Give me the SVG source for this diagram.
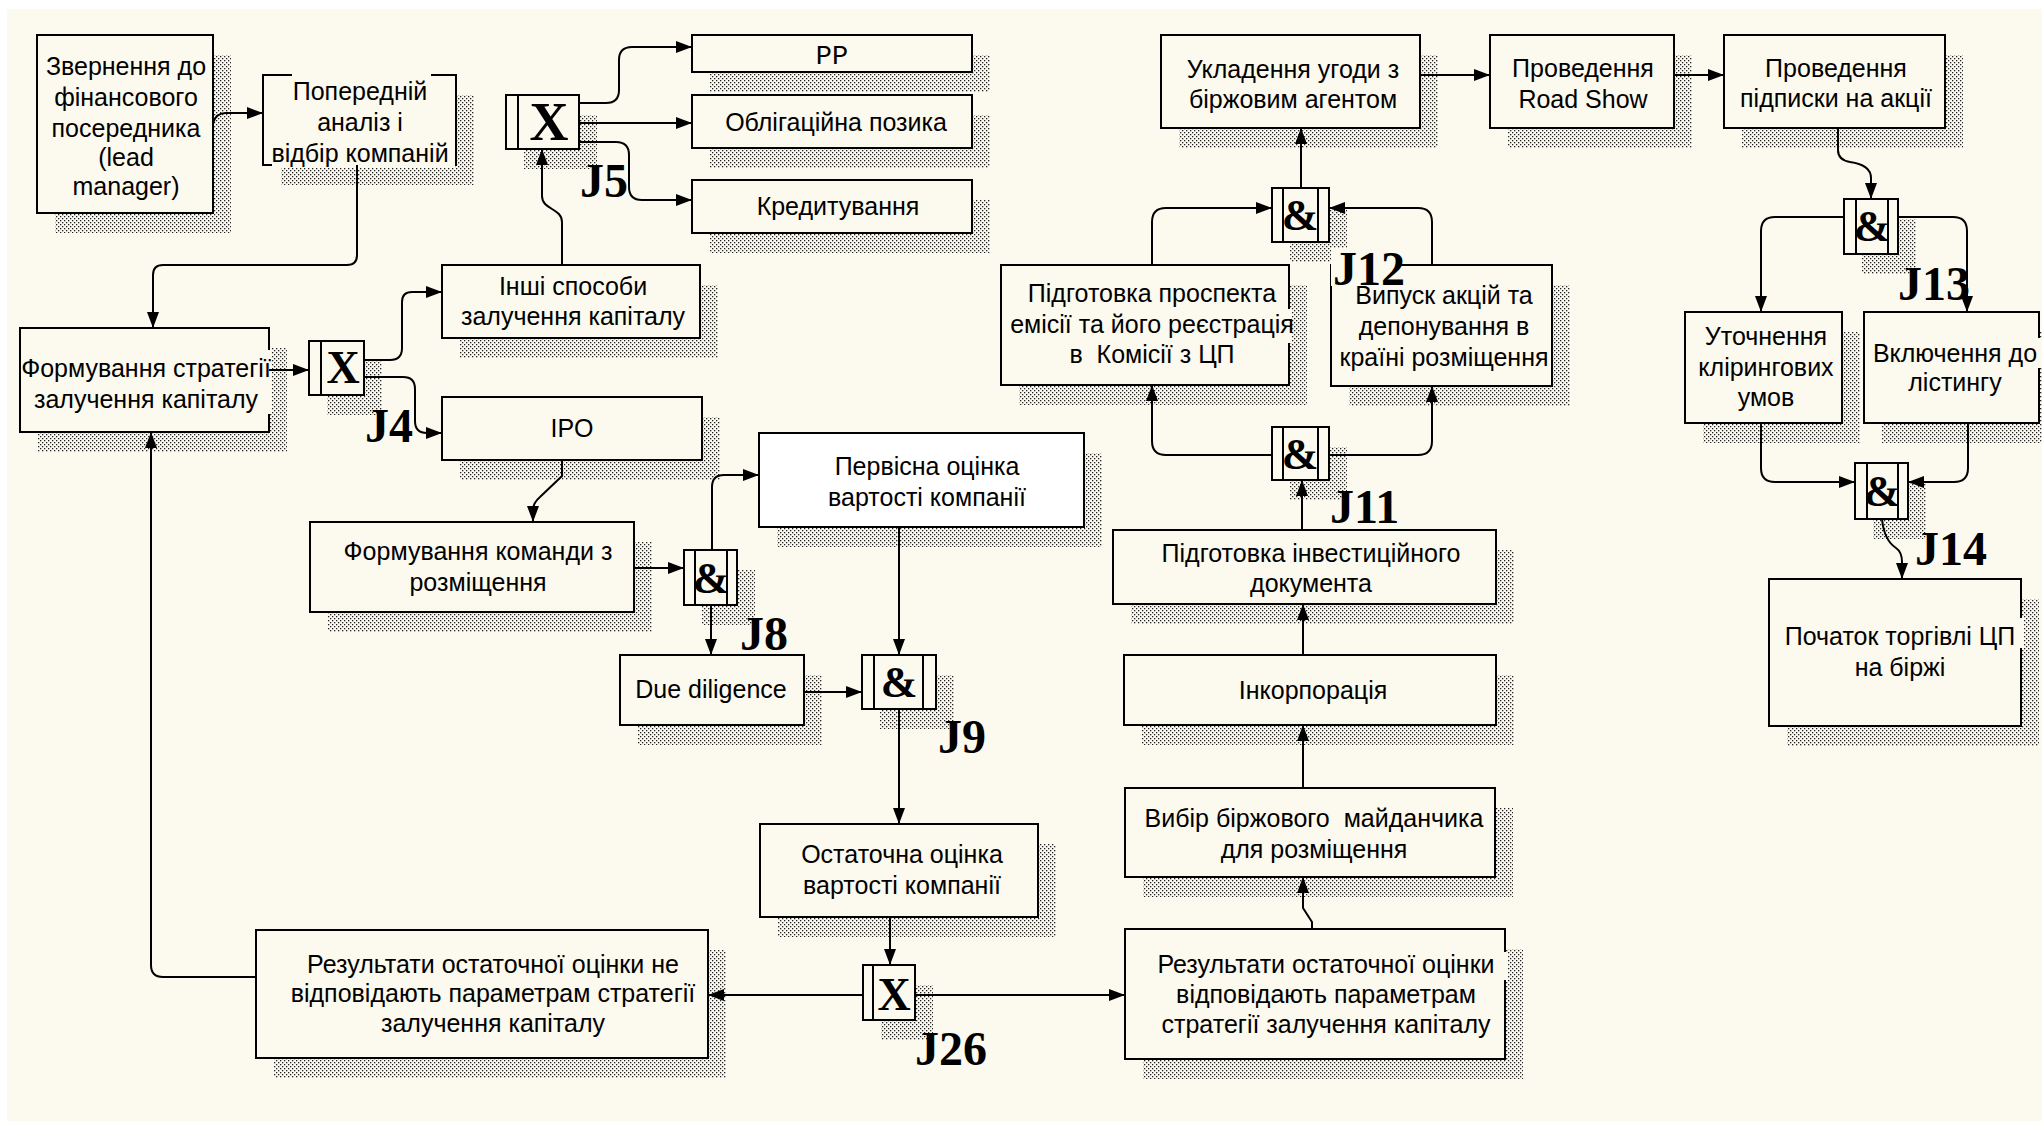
<svg xmlns="http://www.w3.org/2000/svg" width="2042" height="1121" viewBox="0 0 2042 1121">
<defs>
  <pattern id="hatch" width="4" height="4" patternUnits="userSpaceOnUse">
    <rect width="4" height="4" fill="#fcf9ee"/>
    <rect width="1.3" height="1.3" fill="#222"/>
    <rect x="2" y="2" width="1.3" height="1.3" fill="#222"/>
  </pattern>
  <marker id="ah" viewBox="0 0 16 12" refX="16" refY="6" markerWidth="16" markerHeight="12" markerUnits="userSpaceOnUse" orient="auto">
    <path d="M0,0 L16,6 L0,12 Z" fill="#000"/>
  </marker>
  <style>
    .sh { fill: url(#hatch); }
    .box { fill: #fcf9ee; stroke: #000; stroke-width: 2; }
    .wbox { fill: #ffffff; stroke: #000; stroke-width: 2; }
    .gap { fill: #fcf9ee; }
    .t { font-family: "Liberation Sans", Arial, sans-serif; font-size: 25px; text-anchor: middle; fill: #000; }
    .mono { font-family: "Liberation Mono", "Courier New", monospace; font-size: 27px; text-anchor: middle; fill: #000; }
    .jl { font-family: "Liberation Serif", "Times New Roman", serif; font-weight: bold; font-size: 48px; fill: #000; }
    .jg { font-family: "Liberation Serif", "Times New Roman", serif; font-weight: bold; font-size: 46px; text-anchor: middle; fill: #000; }
    .amp { font-family: "Liberation Serif", "Times New Roman", serif; font-weight: bold; font-size: 44px; text-anchor: middle; fill: #000; }
    .jl-bg { fill: #fcf9ee; }
    .jline { stroke: #000; stroke-width: 2; }
    .cn { fill: none; stroke: #000; stroke-width: 2; marker-end: url(#ah); }
  </style>
</defs>

<!-- canvas -->
<rect width="2042" height="1121" fill="#ffffff"/>
<rect x="7" y="9" width="2035" height="1112" fill="#fcf9ee"/>

<!-- activity boxes -->
<g id="n-zvernennia">
  <rect class="sh" x="55" y="55" width="176" height="178"/>
  <rect class="box" x="37" y="35" width="176" height="178"/>
  <text class="t"><tspan x="126" y="75">Звернення до</tspan><tspan x="126" y="106">фінансового</tspan><tspan x="126" y="137">посередника</tspan><tspan x="126" y="166">(lead</tspan><tspan x="126" y="195">manager)</tspan></text>
</g>

<g id="n-poperednii">
  <rect class="sh" x="281" y="95" width="193" height="90"/>
  <rect class="box" x="263" y="75" width="193" height="90"/>
  <rect class="gap" x="292" y="72" width="139" height="6"/>
  <rect class="gap" x="272" y="162" width="183" height="6"/>
  <text class="t"><tspan x="360" y="100">Попередній</tspan><tspan x="360" y="131">аналіз і</tspan><tspan x="360" y="162">відбір компаній</tspan></text>
</g>

<g id="n-pp">
  <rect class="sh" x="710" y="55" width="280" height="37"/>
  <rect class="box" x="692" y="35" width="280" height="37"/>
  <text class="mono" x="832" y="64">PP</text>
</g>

<g id="n-obligatsii">
  <rect class="sh" x="710" y="115" width="280" height="53"/>
  <rect class="box" x="692" y="95" width="280" height="53"/>
  <text class="t" x="836" y="131">Облігаційна позика</text>
</g>

<g id="n-kredytuvannia">
  <rect class="sh" x="710" y="200" width="280" height="53"/>
  <rect class="box" x="692" y="180" width="280" height="53"/>
  <text class="t" x="838" y="215">Кредитування</text>
</g>

<g id="n-inshi">
  <rect class="sh" x="460" y="285" width="258" height="73"/>
  <rect class="box" x="442" y="265" width="258" height="73"/>
  <text class="t"><tspan x="573" y="295">Інші способи</tspan><tspan x="573" y="325">залучення капіталу</tspan></text>
</g>

<g id="n-stratehiia">
  <rect class="sh" x="38" y="348" width="249" height="104"/>
  <rect class="box" x="20" y="328" width="249" height="104"/>
  <rect class="gap" x="266" y="350" width="6" height="64"/>
  <text class="t"><tspan x="146" y="377">Формування стратегії</tspan><tspan x="146" y="408">залучення капіталу</tspan></text>
</g>

<g id="n-ipo">
  <rect class="sh" x="460" y="417" width="260" height="63"/>
  <rect class="box" x="442" y="397" width="260" height="63"/>
  <text class="t" x="572" y="437">IPO</text>
</g>

<g id="n-komanda">
  <rect class="sh" x="328" y="542" width="324" height="90"/>
  <rect class="box" x="310" y="522" width="324" height="90"/>
  <text class="t"><tspan x="478" y="560">Формування команди з</tspan><tspan x="478" y="591">розміщення</tspan></text>
</g>

<g id="n-pervisna">
  <rect class="sh" x="777" y="453" width="325" height="94"/>
  <rect class="wbox" x="759" y="433" width="325" height="94"/>
  <text class="t"><tspan x="927" y="475">Первісна оцінка</tspan><tspan x="927" y="506">вартості компанії</tspan></text>
</g>

<g id="n-due-diligence">
  <rect class="sh" x="638" y="675" width="184" height="70"/>
  <rect class="box" x="620" y="655" width="184" height="70"/>
  <text class="t" x="711" y="698">Due diligence</text>
</g>

<g id="n-ostatochna">
  <rect class="sh" x="778" y="844" width="278" height="93"/>
  <rect class="box" x="760" y="824" width="278" height="93"/>
  <text class="t"><tspan x="902" y="863">Остаточна оцінка</tspan><tspan x="902" y="894">вартості компанії</tspan></text>
</g>

<g id="n-rezult-ne">
  <rect class="sh" x="274" y="950" width="452" height="128"/>
  <rect class="box" x="256" y="930" width="452" height="128"/>
  <text class="t"><tspan x="493" y="973">Результати остаточної оцінки не</tspan><tspan x="493" y="1002">відповідають параметрам стратегії</tspan><tspan x="493" y="1032">залучення капіталу</tspan></text>
</g>

<g id="n-rezult-tak">
  <rect class="sh" x="1143" y="949" width="380" height="130"/>
  <rect class="box" x="1125" y="929" width="380" height="130"/>
  <rect class="gap" x="1502" y="952" width="6" height="28"/>
  <text class="t"><tspan x="1326" y="973">Результати остаточної оцінки</tspan><tspan x="1326" y="1003">відповідають параметрам</tspan><tspan x="1326" y="1033">стратегії залучення капіталу</tspan></text>
</g>

<g id="n-vybir">
  <rect class="sh" x="1143" y="808" width="370" height="89"/>
  <rect class="box" x="1125" y="788" width="370" height="89"/>
  <text class="t" xml:space="preserve"><tspan x="1314" y="827">Вибір біржового  майданчика</tspan><tspan x="1314" y="858">для розміщення</tspan></text>
</g>

<g id="n-inkorporatsiia">
  <rect class="sh" x="1142" y="675" width="372" height="70"/>
  <rect class="box" x="1124" y="655" width="372" height="70"/>
  <text class="t" x="1313" y="699">Інкорпорація</text>
</g>

<g id="n-invest-doc">
  <rect class="sh" x="1131" y="550" width="383" height="74"/>
  <rect class="box" x="1113" y="530" width="383" height="74"/>
  <text class="t"><tspan x="1311" y="562">Підготовка інвестиційного</tspan><tspan x="1311" y="592">документа</tspan></text>
</g>

<g id="n-prospekt">
  <rect class="sh" x="1019" y="285" width="288" height="120"/>
  <rect class="box" x="1001" y="265" width="288" height="120"/>
  <rect class="gap" x="1286" y="309" width="6" height="34"/>
  <text class="t" xml:space="preserve"><tspan x="1152" y="302">Підготовка проспекта</tspan><tspan x="1152" y="333">емісії та його реєстрація</tspan><tspan x="1152" y="363">в  Комісії з ЦП</tspan></text>
</g>

<g id="n-vypusk">
  <rect class="sh" x="1349" y="285" width="221" height="121"/>
  <rect class="box" x="1331" y="265" width="221" height="121"/>
  <text class="t"><tspan x="1444" y="304">Випуск акцій та</tspan><tspan x="1444" y="335">депонування в</tspan><tspan x="1444" y="366">країні розміщення</tspan></text>
</g>

<g id="n-ukladennia">
  <rect class="sh" x="1179" y="55" width="259" height="93"/>
  <rect class="box" x="1161" y="35" width="259" height="93"/>
  <text class="t"><tspan x="1293" y="78">Укладення угоди з</tspan><tspan x="1293" y="108">біржовим агентом</tspan></text>
</g>

<g id="n-road-show">
  <rect class="sh" x="1508" y="55" width="184" height="93"/>
  <rect class="box" x="1490" y="35" width="184" height="93"/>
  <text class="t"><tspan x="1583" y="77">Проведення</tspan><tspan x="1583" y="108">Road Show</tspan></text>
</g>

<g id="n-pidpyska">
  <rect class="sh" x="1742" y="55" width="221" height="93"/>
  <rect class="box" x="1724" y="35" width="221" height="93"/>
  <text class="t"><tspan x="1836" y="77">Проведення</tspan><tspan x="1836" y="107">підписки на акції</tspan></text>
</g>

<g id="n-kliring">
  <rect class="sh" x="1703" y="332" width="157" height="111"/>
  <rect class="box" x="1685" y="312" width="157" height="111"/>
  <text class="t"><tspan x="1766" y="345">Уточнення</tspan><tspan x="1766" y="376">клірингових</tspan><tspan x="1766" y="406">умов</tspan></text>
</g>

<g id="n-listynh">
  <rect class="sh" x="1882" y="332" width="175" height="111"/>
  <rect class="box" x="1864" y="312" width="175" height="111"/>
  <rect class="gap" x="2036" y="338" width="6" height="30"/>
  <text class="t"><tspan x="1955" y="362">Включення до</tspan><tspan x="1955" y="391">лістингу</tspan></text>
</g>

<g id="n-pochatok">
  <rect class="sh" x="1787" y="599" width="252" height="147"/>
  <rect class="box" x="1769" y="579" width="252" height="147"/>
  <rect class="gap" x="2018" y="618" width="6" height="30"/>
  <text class="t"><tspan x="1900" y="645">Початок торгівлі ЦП</tspan><tspan x="1900" y="676">на біржі</tspan></text>
</g>

<!-- junctions -->
<g id="j4">
  <rect class="sh" x="327" y="361" width="55" height="54"/>
  <rect class="box" x="309" y="341" width="55" height="54"/>
  <line class="jline" x1="321" y1="341" x2="321" y2="395"/>
  <text class="jg" x="343" y="383">X</text>
  <text class="jl" x="365" y="442">J4</text>
</g>

<g id="j5">
  <rect class="sh" x="524" y="115" width="73" height="54"/>
  <rect class="box" x="506" y="95" width="73" height="54"/>
  <line class="jline" x1="518" y1="95" x2="518" y2="149"/>
  <text class="jg" x="549" y="140" style="font-size:54px">X</text>
  <text class="jl" x="580" y="197">J5</text>
</g>

<g id="j8">
  <rect class="sh" x="702" y="570" width="53" height="55"/>
  <rect class="box" x="684" y="550" width="53" height="55"/>
  <line class="jline" x1="695" y1="550" x2="695" y2="605"/>
  <line class="jline" x1="727" y1="550" x2="727" y2="605"/>
  <text class="amp" x="711" y="593">&amp;</text>
  <text class="jl" x="740" y="650">J8</text>
</g>

<g id="j9">
  <rect class="sh" x="880" y="675" width="74" height="54"/>
  <rect class="box" x="862" y="655" width="74" height="54"/>
  <line class="jline" x1="874" y1="655" x2="874" y2="709"/>
  <line class="jline" x1="923" y1="655" x2="923" y2="709"/>
  <text class="amp" x="899" y="697">&amp;</text>
  <text class="jl" x="938" y="753">J9</text>
</g>

<g id="j26">
  <rect class="sh" x="881" y="985" width="52" height="55"/>
  <rect class="box" x="863" y="965" width="52" height="55"/>
  <line class="jline" x1="873" y1="965" x2="873" y2="1020"/>
  <text class="jg" x="894" y="1010">X</text>
  <text class="jl" x="915" y="1065">J26</text>
</g>

<g id="j11">
  <rect class="sh" x="1290" y="447" width="57" height="53"/>
  <rect class="box" x="1272" y="427" width="57" height="53"/>
  <line class="jline" x1="1283" y1="427" x2="1283" y2="480"/>
  <line class="jline" x1="1318" y1="427" x2="1318" y2="480"/>
  <text class="amp" x="1300" y="469">&amp;</text>
  <text class="jl" x="1330" y="523">J11</text>
</g>

<g id="j12">
  <rect class="sh" x="1290" y="208" width="57" height="54"/>
  <rect class="box" x="1272" y="188" width="57" height="54"/>
  <line class="jline" x1="1283" y1="188" x2="1283" y2="242"/>
  <line class="jline" x1="1318" y1="188" x2="1318" y2="242"/>
  <text class="amp" x="1300" y="230">&amp;</text>
  <rect class="jl-bg" x="1331" y="248" width="70" height="38"/>
  <text class="jl" x="1333" y="285">J12</text>
</g>

<g id="j13">
  <rect class="sh" x="1862" y="219" width="54" height="55"/>
  <rect class="box" x="1844" y="199" width="54" height="55"/>
  <line class="jline" x1="1856" y1="199" x2="1856" y2="254"/>
  <line class="jline" x1="1888" y1="199" x2="1888" y2="254"/>
  <text class="amp" x="1872" y="241">&amp;</text>
  <text class="jl" x="1898" y="300">J13</text>
</g>

<g id="j14">
  <rect class="sh" x="1873" y="483" width="53" height="56"/>
  <rect class="box" x="1855" y="463" width="53" height="56"/>
  <line class="jline" x1="1867" y1="463" x2="1867" y2="519"/>
  <line class="jline" x1="1898" y1="463" x2="1898" y2="519"/>
  <text class="amp" x="1882" y="506">&amp;</text>
  <text class="jl" x="1915" y="565">J14</text>
</g>

<!-- connectors -->
<g id="connectors">
  <path class="cn" d="M213,123 Q216,113 226,113 H263"/>
  <path class="cn" d="M357,165 V255 Q357,265 347,265 H163 Q153,265 153,275 V328"/>
  <path class="cn" d="M269,370 H309"/>
  <path class="cn" d="M364,360 H390 Q402,360 402,348 V302 Q402,292 412,292 H442"/>
  <path class="cn" d="M364,377 H403 Q415,377 415,389 V421 Q415,433 427,433 H442"/>
  <path class="cn" d="M562,265 V222 C562,208 542,210 542,196 V149"/>
  <path class="cn" d="M579,103 H606 Q619,103 619,90 V60 Q619,47 632,47 H692"/>
  <path class="cn" d="M579,123 H692"/>
  <path class="cn" d="M579,142 H616 Q629,142 629,155 V187 Q629,200 642,200 H692"/>
  <path class="cn" d="M562,460 V476 L540,497 Q533,503 533,510 V522"/>
  <path class="cn" d="M634,568 H684"/>
  <path class="cn" d="M711,605 V655"/>
  <path class="cn" d="M712,550 V487 Q712,475 724,475 H759"/>
  <path class="cn" d="M899,527 V655"/>
  <path class="cn" d="M804,692 H862"/>
  <path class="cn" d="M899,709 V824"/>
  <path class="cn" d="M890,917 V965"/>
  <path class="cn" d="M863,995 H708"/>
  <path class="cn" d="M915,995 H1125"/>
  <path class="cn" d="M256,977 H163 Q151,977 151,965 V432"/>
  <path class="cn" d="M1312,929 V922 L1303,908 V877"/>
  <path class="cn" d="M1303,788 V725"/>
  <path class="cn" d="M1303,655 V604"/>
  <path class="cn" d="M1302,530 V480"/>
  <path class="cn" d="M1272,455 H1166 Q1152,455 1152,441 V385"/>
  <path class="cn" d="M1329,455 H1418 Q1432,455 1432,441 V386"/>
  <path class="cn" d="M1152,265 V222 Q1152,208 1166,208 H1272"/>
  <path class="cn" d="M1432,265 V222 Q1432,208 1418,208 H1329"/>
  <path class="cn" d="M1301,188 V128"/>
  <path class="cn" d="M1420,75 H1490"/>
  <path class="cn" d="M1674,75 H1724"/>
  <path class="cn" d="M1838,128 V150 Q1838,160 1850,162 Q1871,165 1871,178 V199"/>
  <path class="cn" d="M1844,217 H1775 Q1761,217 1761,231 V312"/>
  <path class="cn" d="M1898,217 H1953 Q1967,217 1967,231 V312"/>
  <path class="cn" d="M1761,423 V468 Q1761,482 1775,482 H1855"/>
  <path class="cn" d="M1968,423 V468 Q1968,482 1954,482 H1908"/>
  <path class="cn" d="M1882,519 Q1884,540 1896,548 Q1902,552 1902,562 V579"/>
</g>
</svg>
